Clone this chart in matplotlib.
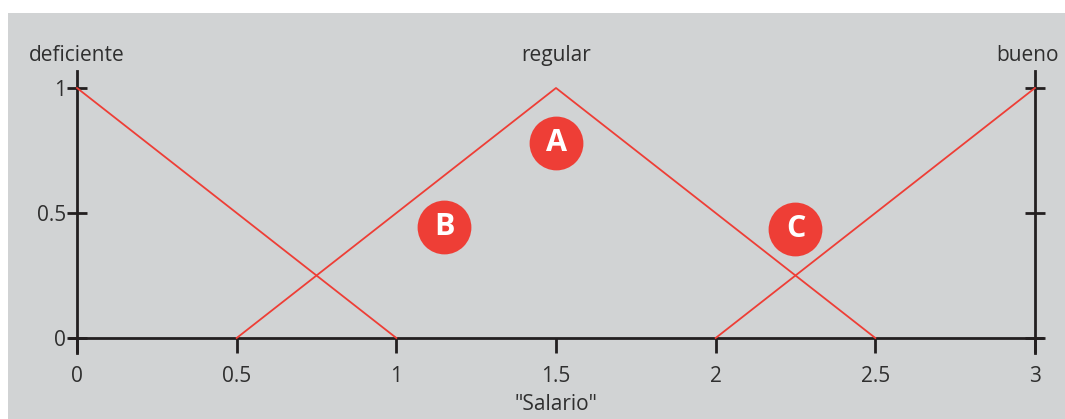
import matplotlib
matplotlib.use("Agg")
import matplotlib.pyplot as plt
from matplotlib.patches import Rectangle

plt.rcParams['font.family'] = ['Open Sans', 'DejaVu Sans']

# funciones de pertenencia (triangulares)
deficiente_x = [0, 1]
deficiente_y = [1, 0]
regular_x = [0.5, 1.5, 2.5]
regular_y = [0, 1, 0]
bueno_x = [2, 3]
bueno_y = [0, 1]

x_ticks = [0, 0.5, 1, 1.5, 2, 2.5, 3]
x_labels = ['0', '0.5', '1', '1.5', '2', '2.5', '3']
y_ticks = [0, 0.5, 1]
y_labels = ['0', '0.5', '1']

etiquetas = ['deficiente', 'regular', 'bueno']
etiquetas_x = [0, 1.5, 3.075]
etiquetas_ha = ['center', 'center', 'right']

marcas = ['A', 'B', 'C']
marcas_x = [1.5, 1.15, 2.25]
marcas_y = [0.78, 0.445, 0.435]

rojo = '#ee3e36'
gris = '#d1d3d4'
texto = '#2f2f2f'
negro = '#231f20'

fig = plt.figure(figsize=(10.65, 4.19), dpi=100)
fig.patch.set_facecolor('white')
fig.patches.append(Rectangle((8 / 1065, 0), 1, 1 - 13 / 419, transform=fig.transFigure,
                             facecolor=gris, edgecolor='none', zorder=-10))

ax = fig.add_axes([70 / 1065, 66 / 419, 972 / 1065, 282 / 419])
ax.set_facecolor('none')
ax.set_xlim(-0.022, 3.022)
ax.set_ylim(-0.06, 1.068)

ax.plot(deficiente_x, deficiente_y, color=rojo, lw=1.3)
ax.plot(regular_x, regular_y, color=rojo, lw=1.3)
ax.plot(bueno_x, bueno_y, color=rojo, lw=1.3)

ax.spines['top'].set_visible(False)
ax.spines['left'].set_position(('data', 0))
ax.spines['right'].set_position(('data', 3))
ax.spines['bottom'].set_position(('data', 0))
for sp in ['left', 'right', 'bottom']:
    ax.spines[sp].set_linewidth(2.0)
    ax.spines[sp].set_color(negro)
    ax.spines[sp].set_zorder(1)

ax.set_xticks(x_ticks, x_labels)
ax.set_yticks(y_ticks, y_labels)
ax.tick_params(axis='x', direction='out', length=11, width=2.0, color=negro,
               labelsize=15, labelcolor=texto, pad=9)
ax.tick_params(axis='y', direction='inout', length=14, width=2.0, color=negro,
               labelsize=15, labelcolor=texto, pad=1, right=True)
ax.yaxis.set_tick_params(which='both', labelright=False)

for t, xx, ha in zip(etiquetas, etiquetas_x, etiquetas_ha):
    ax.text(xx, 1.13, t, ha=ha, va='center', fontsize=15, color=texto, clip_on=False)

for m, mx, my in zip(marcas, marcas_x, marcas_y):
    ax.scatter(mx, my, s=1500, color=rojo, zorder=5, linewidths=0)
    ax.text(mx, my, m, ha='center', va='center', fontsize=22, fontweight='bold',
            color='white', zorder=6)

ax.set_xlabel('"Salario"', fontsize=15, color=texto, labelpad=5)

fig.savefig('out.png', dpi=100, facecolor=fig.get_facecolor())
